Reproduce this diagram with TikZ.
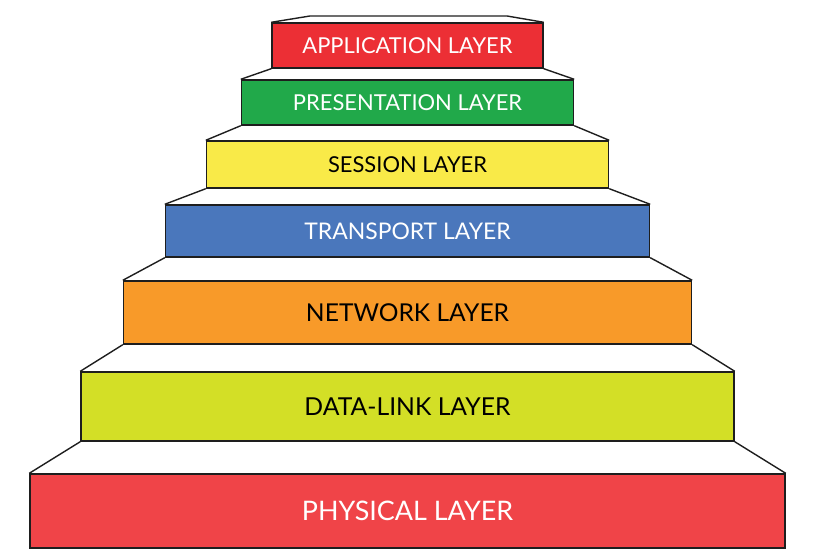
\documentclass[tikz,border=0pt]{standalone}
\usepackage{fontspec}
\setmainfont{Lato}
\usepackage{tikz}
\usetikzlibrary{positioning}
\usepackage{xcolor}

\definecolor{appred}{HTML}{EC2F35}
\definecolor{presgreen}{HTML}{21A94A}
\definecolor{sessyellow}{HTML}{F9EA48}
\definecolor{transblue}{HTML}{4A77BC}
\definecolor{netorange}{HTML}{F89A29}
\definecolor{linklime}{HTML}{D3DF26}
\definecolor{physred}{HTML}{F04448}
\definecolor{edgegray}{HTML}{1E1E1E}

\begin{document}
\begin{tikzpicture}[x=1bp,y=1bp,line width=1.4bp,color=edgegray,
	layer/.style={draw,rectangle,inner sep=0pt},
	size/.style={font=\fontsize{#1}{#1}\selectfont}]
	
	\useasboundingbox (0,0) rectangle (816,549);
	
	\node[layer,size=22,fill=appred,text=white,minimum width=271bp,minimum height=45bp] (app) at (407.5,503.5) {APPLICATION LAYER};
	\node[layer,size=22,fill=presgreen,text=white,minimum width=332bp,minimum height=45bp] (pres) [below of=app,node distance=57bp] {PRESENTATION LAYER};
	\node[layer,size=22,fill=sessyellow,text=black,minimum width=402bp,minimum height=47bp] (sess) [below of=pres,node distance=62bp] {SESSION LAYER};
	\node[layer,size=23,fill=transblue,text=white,minimum width=484bp,minimum height=52bp] (trans) [below of=sess,node distance=66.5bp] {TRANSPORT LAYER};
	\node[layer,size=24.7,fill=netorange,text=black,minimum width=568bp,minimum height=63bp] (net) [below of=trans,node distance=81.5bp] {NETWORK LAYER};
	\node[layer,size=24.8,fill=linklime,text=black,minimum width=653bp,minimum height=69bp] (link) [below of=net,node distance=94bp] {DATA-LINK LAYER};
	\node[layer,size=27,fill=physred,text=white,minimum width=755bp,minimum height=74bp] (phys) [below of=link,node distance=104.5bp] {PHYSICAL LAYER};
	
	% top face of the highest step
	\coordinate (topw) at (310,533);
	\coordinate (tope) at (507,533);
	\draw (app.north west) -- (topw) -- (tope) -- (app.north east);
	
	% slanted edges of the treads
	\path (pres.north west) edge (app.south west)
	      (pres.north east) edge (app.south east)
	      (sess.north west) edge (pres.south west)
	      (sess.north east) edge (pres.south east)
	      (trans.north west) edge (sess.south west)
	      (trans.north east) edge (sess.south east)
	      (net.north west) edge (trans.south west)
	      (net.north east) edge (trans.south east)
	      (link.north west) edge (net.south west)
	      (link.north east) edge (net.south east)
	      (phys.north west) edge (link.south west)
	      (phys.north east) edge (link.south east);
\end{tikzpicture}
\end{document}
